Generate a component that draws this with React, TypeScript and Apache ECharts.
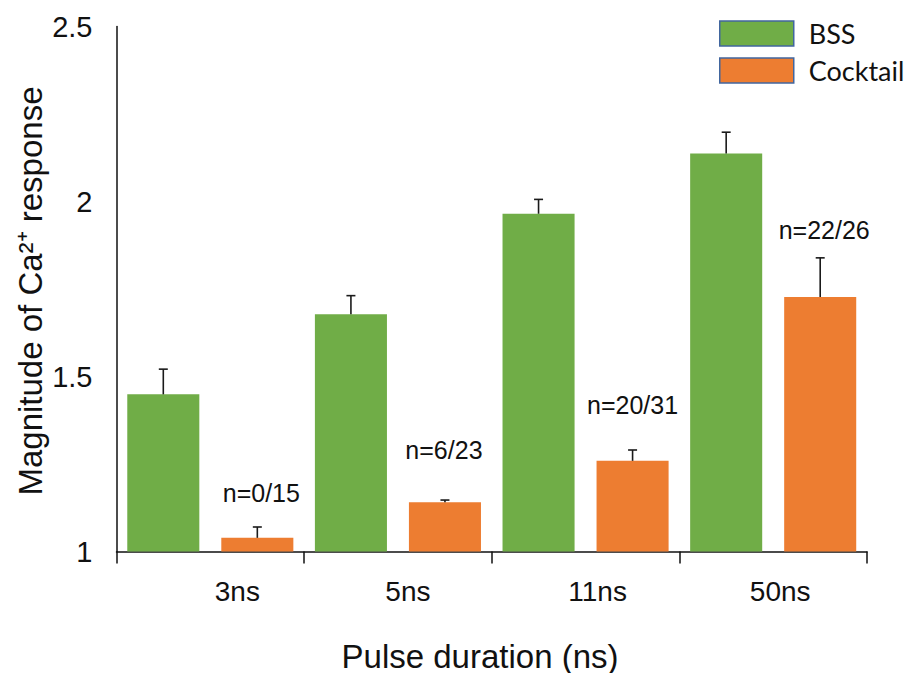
import React, { useEffect, useRef } from "react";
import * as echarts from "echarts";

// Pulse durations on the x axis
const categories = ["3ns", "5ns", "11ns", "50ns"];
// Mean magnitude of the Ca2+ response
const bssMeans = [1.449, 1.678, 1.965, 2.137];
const cocktailMeans = [1.039, 1.141, 1.259, 1.727];
// Upper error (SEM)
const bssErrors = [0.072, 0.053, 0.041, 0.061];
const cocktailErrors = [0.031, 0.006, 0.031, 0.112];
// Responding cells / total, cocktail condition
const cocktailCounts = ["n=0/15", "n=6/23", "n=20/31", "n=22/26"];
// Y-axis ticks
const yTicks = [1, 1.5, 2, 2.5];

const GREEN = "#70AD47";
const ORANGE = "#ED7D31";
const AXIS_FONT = "'Liberation Sans', Arial, Helvetica, sans-serif";

// Bar geometry relative to the category band
const BAR_RATIO = 0.384;
const BAR_GAP_RATIO = 0.305;
// Pixel lift of the count labels above each cocktail error bar, and small x nudges
const COUNT_LIFT = [34, 50, 45, 28];
const COUNT_DX = [4, -1, 0, 4];
// Horizontal nudges of the category labels
const CAT_LABEL_DX = [27, 10, 12, 7];

function errorSeries(
  name: string,
  means: number[],
  errs: number[],
  side: number,
  counts?: string[]
) {
  return {
    type: "custom",
    name,
    silent: true,
    z: 5,
    data: means.map((m, i) => [i, m, m + errs[i]]),
    renderItem: (params: any, api: any) => {
      const i = api.value(0);
      const catW = api.size([1, 0])[0];
      const barW = catW * BAR_RATIO;
      const off = side * (barW + barW * BAR_GAP_RATIO) / 2;
      const base = api.coord([i, api.value(1)]);
      const top = api.coord([i, api.value(2)]);
      const x = base[0] + off;
      const lineStyle = { stroke: "#1a1a1a", lineWidth: 1.6 };
      const children: any[] = [
        { type: "line", shape: { x1: x, y1: base[1], x2: x, y2: top[1] }, style: lineStyle },
        { type: "line", shape: { x1: x - 4.5, y1: top[1], x2: x + 4.5, y2: top[1] }, style: lineStyle },
      ];
      if (counts) {
        children.push({
          type: "text",
          x: x + COUNT_DX[i],
          y: top[1] - COUNT_LIFT[i],
          style: {
            text: counts[i],
            fill: "#111",
            font: `25px ${AXIS_FONT}`,
            textAlign: "center",
            textVerticalAlign: "middle",
          },
        });
      }
      return { type: "group", children };
    },
  };
}

export default function App() {
  const ref = useRef<HTMLDivElement>(null);

  useEffect(() => {
    if (!ref.current) return;
    const chart = echarts.init(ref.current, undefined, { renderer: "svg" });
    const rich: Record<string, any> = {};
    categories.forEach((_, i) => {
      rich["c" + i] = {
        fontSize: 28,
        fontFamily: AXIS_FONT,
        color: "#111",
        padding: [0, 0, 0, CAT_LABEL_DX[i] * 2],
      };
    });

    chart.setOption({
      animation: false,
      backgroundColor: "#ffffff",
      grid: { left: 116.5, right: 45, top: 26.5, bottom: 121.5 },
      legend: {
        orient: "vertical",
        left: 719,
        top: 20,
        padding: 0,
        itemWidth: 74,
        itemHeight: 25,
        itemGap: 10,
        icon: "rect",
        selectedMode: false,
        data: ["BSS", "Cocktail"],
        itemStyle: { borderColor: "#41669f", borderWidth: 1.5 },
        textStyle: {
          fontFamily: "Lato, 'Open Sans', sans-serif",
          fontSize: 27,
          color: "#111",
          padding: [0, 0, 0, 10],
        },
      },
      xAxis: {
        type: "category",
        data: categories,
        boundaryGap: true,
        axisLine: { lineStyle: { color: "#111", width: 1.5 } },
        axisTick: { show: true, length: 12, lineStyle: { color: "#111", width: 1.5 } },
        axisLabel: {
          margin: 26,
          formatter: (v: string) => `{c${categories.indexOf(v)}|${v}}`,
          rich,
        },
        splitLine: { show: false },
      },
      yAxis: {
        type: "value",
        min: yTicks[0],
        max: yTicks[yTicks.length - 1],
        interval: yTicks[1] - yTicks[0],
        axisLine: { show: true, lineStyle: { color: "#111", width: 1.5 } },
        axisTick: { show: false },
        splitLine: { show: false },
        axisLabel: {
          margin: 24,
          fontSize: 29,
          fontFamily: AXIS_FONT,
          color: "#111",
          formatter: (v: number) => String(v),
        },
      },
      graphic: [
        {
          type: "text",
          x: 30,
          y: 291,
          rotation: Math.PI / 2,
          style: {
            text: "Magnitude of Ca²⁺ response",
            font: `33px ${AXIS_FONT}`,
            fill: "#111",
            textAlign: "center",
            textVerticalAlign: "middle",
          },
        },
        {
          type: "text",
          x: 480,
          y: 656,
          style: {
            text: "Pulse duration (ns)",
            font: `33px ${AXIS_FONT}`,
            fill: "#111",
            textAlign: "center",
            textVerticalAlign: "middle",
          },
        },
      ],
      series: [
        {
          name: "BSS",
          type: "bar",
          data: bssMeans,
          barWidth: `${BAR_RATIO * 100}%`,
          barGap: `${BAR_GAP_RATIO * 100}%`,
          itemStyle: { color: GREEN },
        },
        {
          name: "Cocktail",
          type: "bar",
          data: cocktailMeans,
          barWidth: `${BAR_RATIO * 100}%`,
          barGap: `${BAR_GAP_RATIO * 100}%`,
          itemStyle: { color: ORANGE },
        },
        errorSeries("BSS error", bssMeans, bssErrors, -1),
        errorSeries("Cocktail error", cocktailMeans, cocktailErrors, 1, cocktailCounts),
      ],
    });
    return () => chart.dispose();
  }, []);

  return (
    <div
      ref={ref}
      style={{ position: "fixed", left: 0, top: 0, width: 912, height: 673 }}
    />
  );
}
